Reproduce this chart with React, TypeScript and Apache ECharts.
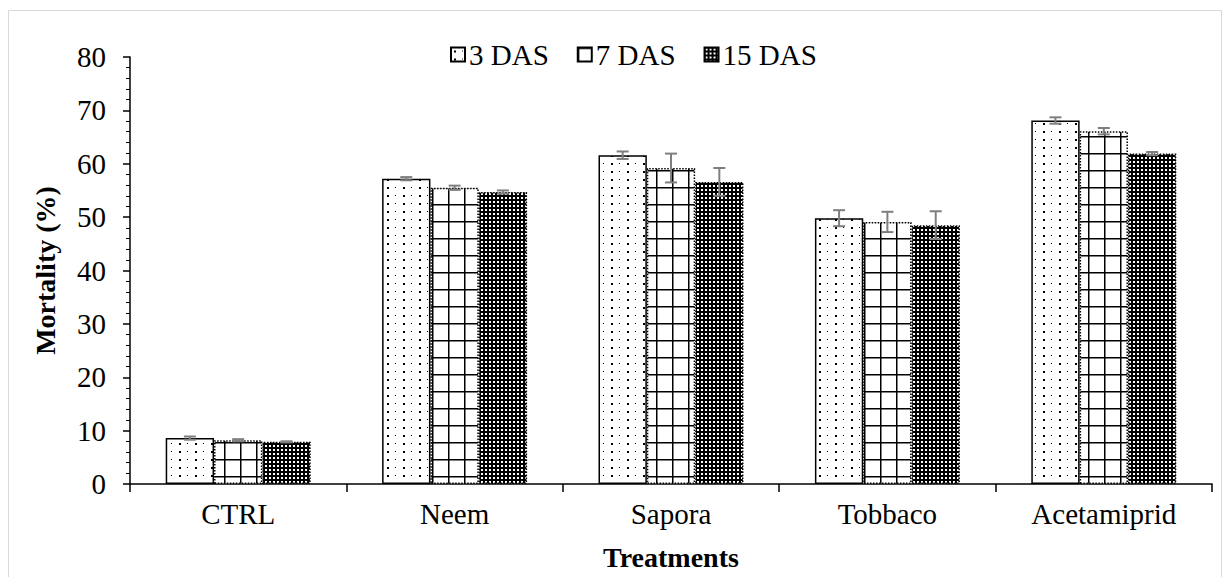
import React, { useEffect, useRef } from "react";
import * as echarts from "echarts";

const categories = ["CTRL", "Neem", "Sapora", "Tobbaco", "Acetamiprid"];
const seriesNames = ["3 DAS", "7 DAS", "15 DAS"];
const das3 = [8.6, 57.2, 61.6, 49.8, 68.1];
const das3Err = [0.3, 0.3, 0.7, 1.5, 0.6];
const das7 = [8.2, 55.5, 59.2, 49.1, 66.1];
const das7Err = [0.2, 0.4, 2.7, 1.9, 0.6];
const das15 = [7.9, 54.7, 56.6, 48.5, 61.9];
const das15Err = [0.1, 0.3, 2.6, 2.6, 0.3];
const yTicks = { min: 0, max: 80, interval: 10 };

const FONT = "'Liberation Serif', 'Times New Roman', serif";
const CAT_GAP = 0.33;

function makePattern(w: number, h: number, draw: (ctx: CanvasRenderingContext2D) => void) {
  const c = document.createElement("canvas");
  c.width = w;
  c.height = h;
  const ctx = c.getContext("2d") as CanvasRenderingContext2D;
  draw(ctx);
  return { image: c.toDataURL(), repeat: "repeat", imageWidth: w, imageHeight: h } as any;
}

export default function App() {
  const ref = useRef<HTMLDivElement>(null);
  useEffect(() => {
    document.body.style.margin = "0";
    const chart = echarts.init(ref.current as HTMLDivElement, undefined, { renderer: "svg" });

    const dots = makePattern(16, 8, (ctx) => {
      ctx.fillStyle = "#ffffff";
      ctx.fillRect(0, 0, 16, 8);
      ctx.fillStyle = "#000000";
      ctx.fillRect(3, 3, 2, 2);
      ctx.fillRect(11, 3, 1, 1);
    });
    const grid = makePattern(16, 17, (ctx) => {
      ctx.fillStyle = "#ffffff";
      ctx.fillRect(0, 0, 16, 17);
      ctx.fillStyle = "#000000";
      ctx.fillRect(0, 0, 16, 1.5);
      ctx.fillRect(0, 0, 1.5, 17);
    });
    const dense = makePattern(4, 4, (ctx) => {
      ctx.fillStyle = "#000000";
      ctx.fillRect(0, 0, 4, 4);
      ctx.fillStyle = "#ffffff";
      ctx.fillRect(1, 1, 2, 2);
    });

    const values = [das3, das7, das15];
    const errs = [das3Err, das7Err, das15Err];
    const fills = [dots, grid, dense];
    const borders = ["solid", "dotted", "dotted"];

    const barSeries = seriesNames.map((name, k) => ({
      name,
      type: "bar",
      data: values[k],
      barGap: "0%",
      barCategoryGap: CAT_GAP * 100 + "%",
      itemStyle: {
        color: fills[k],
        borderColor: "#000000",
        borderWidth: 1.5,
        borderType: borders[k],
      },
    }));

    const errSeries = seriesNames.map((name, k) => ({
      name: name + " error",
      type: "custom",
      data: categories.map((_, i) => [i, values[k][i], errs[k][i]]),
      encode: { x: 0, y: 1 },
      z: 5,
      renderItem: (params: any, api: any) => {
        const i = api.value(0);
        const v = api.value(1);
        const e = api.value(2);
        const band = api.size([1, 0])[0];
        const barW = (band * (1 - CAT_GAP)) / 3;
        const c = api.coord([i, v]);
        const x = c[0] + (k - 1) * barW;
        const yTop = api.coord([i, v + e])[1];
        const yBot = api.coord([i, v - e])[1];
        const cap = 6;
        const st = { stroke: "#7f7f7f", lineWidth: 2 };
        return {
          type: "group",
          children: [
            { type: "line", shape: { x1: x, y1: yTop, x2: x, y2: yBot }, style: st },
            { type: "line", shape: { x1: x - cap, y1: yTop, x2: x + cap, y2: yTop }, style: st },
            { type: "line", shape: { x1: x - cap, y1: yBot, x2: x + cap, y2: yBot }, style: st },
          ],
        };
      },
    }));

    chart.setOption({
      animation: false,
      backgroundColor: "#ffffff",
      graphic: [
        {
          type: "rect",
          shape: { x: 8.5, y: 10.5, width: 1213, height: 600 },
          style: { fill: "none", stroke: "#d9d9d9", lineWidth: 1 },
          z: -10,
        },
      ],
      legend: {
        data: seriesNames,
        top: 35,
        left: 445,
        icon: "rect",
        itemWidth: 14,
        itemHeight: 14,
        itemGap: 28,
        textStyle: { fontFamily: FONT, fontSize: 29, color: "#000000", padding: [0, 0, 0, -1] },
      },
      grid: { left: 130, right: 17, top: 57, bottom: 93 },
      xAxis: {
        type: "category",
        data: categories,
        name: "Treatments",
        nameLocation: "middle",
        nameGap: 59,
        nameTextStyle: { fontFamily: FONT, fontSize: 28, fontWeight: "bold", color: "#000000" },
        axisLine: { lineStyle: { color: "#000000", width: 1.5 } },
        axisTick: { show: true, length: 8, lineStyle: { color: "#000000", width: 1.5 } },
        axisLabel: { fontFamily: FONT, fontSize: 29, color: "#000000", margin: 15 },
      },
      yAxis: {
        type: "value",
        min: yTicks.min,
        max: yTicks.max,
        interval: yTicks.interval,
        name: "Mortality (%)",
        nameLocation: "middle",
        nameGap: 71,
        nameTextStyle: { fontFamily: FONT, fontSize: 28, fontWeight: "bold", color: "#000000" },
        axisLine: { show: true, lineStyle: { color: "#000000", width: 1.5 } },
        axisTick: { show: true, length: 7, lineStyle: { color: "#000000", width: 1.5 } },
        minorTick: { show: true, splitNumber: 5, length: 4, lineStyle: { color: "#000000", width: 1 } },
        splitLine: { show: false },
        axisLabel: { fontFamily: FONT, fontSize: 29, color: "#000000", margin: 24 },
      },
      series: [...barSeries, ...errSeries],
    });
    return () => chart.dispose();
  }, []);
  return <div ref={ref} style={{ width: 1229, height: 577 }} />;
}
